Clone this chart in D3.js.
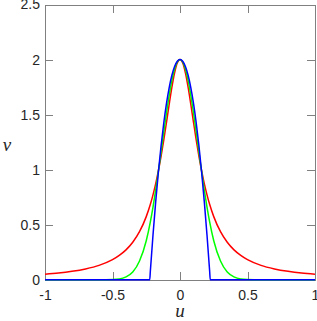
<!DOCTYPE html>
<meta charset="utf-8">
<style>
  body { margin: 0; background: #fff; }
  .axis text { font-family: "Liberation Sans", Arial, sans-serif; font-size: 14px; fill: #262626; }
  .axis path, .axis line { stroke: #808080; stroke-width: 1; shape-rendering: crispEdges; }
  .label { font-family: "Liberation Serif", "DejaVu Serif", serif; font-style: italic; font-size: 19px; fill: #262626; }
</style>

<body>
  <div id="chart"></div>

  <script src="https://d3js.org/d3.v7.min.js"></script>
  <script>
    // u samples shared by the red and green curves
    var uGrid = [-1, -0.9, -0.8, -0.7, -0.6, -0.5, -0.45, -0.4, -0.35, -0.3, -0.25, -0.22, -0.2, -0.18, -0.16, -0.14, -0.12, -0.1, -0.08, -0.06, -0.04, -0.02,
      0, 0.02, 0.04, 0.06, 0.08, 0.1, 0.12, 0.14, 0.16, 0.18, 0.2, 0.22, 0.25, 0.3, 0.35, 0.4, 0.45, 0.5, 0.6, 0.7, 0.8, 0.9, 1];

    var redV = [0.049, 0.060, 0.076, 0.098, 0.130, 0.182, 0.221, 0.271, 0.340, 0.436, 0.573, 0.683, 0.771, 0.873, 0.990, 1.123, 1.271, 1.430, 1.594, 1.749, 1.880, 1.969,
      2, 1.969, 1.880, 1.749, 1.594, 1.430, 1.271, 1.123, 0.990, 0.873, 0.771, 0.683, 0.573, 0.436, 0.340, 0.271, 0.221, 0.182, 0.130, 0.098, 0.076, 0.060, 0.049];

    var greenV = [0, 0, 0, 0, 0, 0.002, 0.007, 0.026, 0.070, 0.170, 0.354, 0.523, 0.660, 0.815, 0.984, 1.162, 1.342, 1.516, 1.675, 1.810, 1.913, 1.978,
      2, 1.978, 1.913, 1.810, 1.675, 1.516, 1.342, 1.162, 0.984, 0.815, 0.660, 0.523, 0.354, 0.170, 0.070, 0.026, 0.007, 0.002, 0, 0, 0, 0, 0];

    // blue curve has its own samples (it drops to zero at about |u| = 0.224)
    var blueU = [-1, -0.224, -0.22, -0.2, -0.18, -0.16, -0.14, -0.12, -0.1, -0.08, -0.06, -0.04, -0.02,
      0, 0.02, 0.04, 0.06, 0.08, 0.1, 0.12, 0.14, 0.16, 0.18, 0.2, 0.22, 0.224, 1];
    var blueV = [0, 0, 0.072, 0.406, 0.709, 0.980, 1.219, 1.426, 1.602, 1.745, 1.857, 1.936, 1.984,
      2, 1.984, 1.936, 1.857, 1.745, 1.602, 1.426, 1.219, 0.980, 0.709, 0.406, 0.072, 0, 0];

    var xTicks = [-1, -0.5, 0, 0.5, 1];
    var yTicks = [0, 0.5, 1, 1.5, 2, 2.5];

    var W = 317, H = 321;
    var margin = { top: 4.5, right: 2, bottom: 41.3, left: 45 };
    var width = W - margin.left - margin.right;
    var height = H - margin.top - margin.bottom;

    var svg = d3.select("#chart").append("svg")
      .attr("width", W)
      .attr("height", H)
      .append("g")
      .attr("transform", "translate(" + margin.left + "," + margin.top + ")");

    var x = d3.scaleLinear().domain([-1, 1]).range([0, width]);
    var y = d3.scaleLinear().domain([0, 2.5]).range([height, 0]);

    var fmt = function (d) { return String(d); };

    svg.append("g")
      .attr("class", "axis")
      .attr("transform", "translate(0," + height + ")")
      .call(d3.axisBottom(x).tickValues(xTicks).tickFormat(fmt).tickSizeInner(-8).tickSizeOuter(0).tickPadding(10));

    svg.append("g")
      .attr("class", "axis")
      .call(d3.axisLeft(y).tickValues(yTicks).tickFormat(fmt).tickSizeInner(-8).tickSizeOuter(0).tickPadding(5));

    svg.append("g")
      .attr("class", "axis")
      .call(d3.axisTop(x).tickValues(xTicks).tickFormat("").tickSizeInner(-8).tickSizeOuter(0));

    svg.append("g")
      .attr("class", "axis")
      .attr("transform", "translate(" + width + ",0)")
      .call(d3.axisRight(y).tickValues(yTicks).tickFormat("").tickSizeInner(-8).tickSizeOuter(0));

    var series = [
      { color: "#ff0000", u: uGrid, v: redV },
      { color: "#00ff00", u: uGrid, v: greenV },
      { color: "#0000ff", u: blueU, v: blueV }
    ];

    var line = d3.line()
      .x(function (d) { return x(d[0]); })
      .y(function (d) { return y(d[1]); })
      .curve(d3.curveMonotoneX);

    svg.selectAll(".curve")
      .data(series)
      .enter()
      .append("path")
      .attr("class", "curve")
      .attr("fill", "none")
      .attr("stroke", function (d) { return d.color; })
      .attr("stroke-width", 1.5)
      .attr("d", function (d) {
        return line(d.u.map(function (u, i) { return [u, d.v[i]]; }));
      });

    svg.append("text")
      .attr("class", "label")
      .attr("x", width / 2)
      .attr("y", height + 37)
      .attr("text-anchor", "middle")
      .text("u");

    svg.append("text")
      .attr("class", "label")
      .attr("x", -38)
      .attr("y", y(1.25) + 9)
      .attr("text-anchor", "middle")
      .text("v");
  </script>
</body>
